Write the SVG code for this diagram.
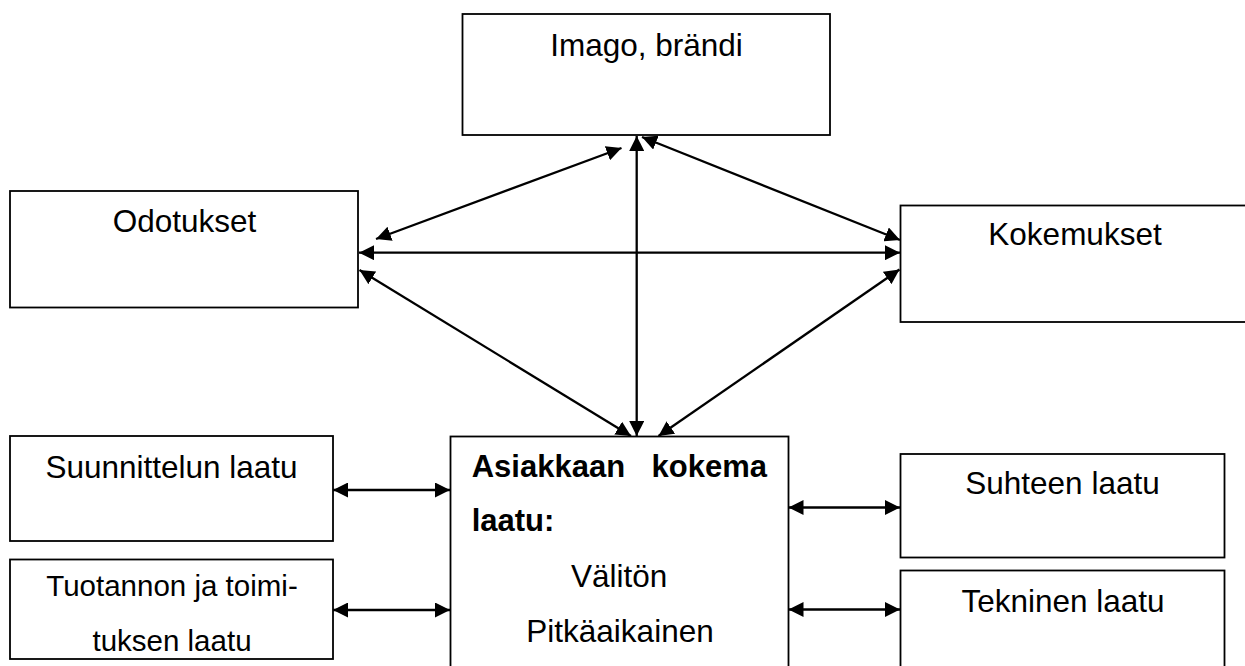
<svg xmlns="http://www.w3.org/2000/svg" width="1245" height="666" viewBox="0 0 1245 666">
  <style>
    .box { fill: #ffffff; stroke: #000000; stroke-width: 1.8; }
    .lbl { font-family: "Liberation Sans", Arial, sans-serif; font-size: 31.5px; fill: #000000; }
    .small { font-size: 29.5px; }
    .mid { text-anchor: middle; }
    .bold { font-weight: bold; font-size: 31px; }
    .conn { stroke: #000000; stroke-width: 2.3; fill: none; marker-start: url(#head); marker-end: url(#head); }
  </style>
  <defs>
    <marker id="head" markerUnits="userSpaceOnUse" markerWidth="15" markerHeight="15" refX="15" refY="7.5" orient="auto-start-reverse">
      <path d="M0,0 L15,7.5 L0,15 Z" fill="#000000"/>
    </marker>
  </defs>
  <rect width="1245" height="666" fill="#ffffff"/>

  <g id="connectors">
    <line class="conn" x1="376" y1="239" x2="621.5" y2="148"/>
    <line class="conn" x1="642" y1="137" x2="900" y2="240"/>
    <line class="conn" x1="359" y1="252.7" x2="900" y2="252.7"/>
    <line class="conn" x1="636.7" y1="136" x2="636.7" y2="436"/>
    <line class="conn" x1="359.5" y1="270" x2="631" y2="436"/>
    <line class="conn" x1="899.5" y1="269.5" x2="658.5" y2="436"/>
    <line class="conn" x1="333" y1="490" x2="450" y2="490"/>
    <line class="conn" x1="333" y1="610" x2="450" y2="610"/>
    <line class="conn" x1="788.5" y1="507.5" x2="900" y2="507.5"/>
    <line class="conn" x1="788.5" y1="609.5" x2="900" y2="609.5"/>
  </g>

  <g id="imago">
    <rect class="box" x="462.5" y="14" width="367.5" height="121"/>
    <text class="lbl mid" x="646.5" y="56">Imago, brändi</text>
  </g>
  <g id="odotukset">
    <rect class="box" x="10" y="191" width="348" height="116.5"/>
    <text class="lbl mid" x="184.5" y="231.7">Odotukset</text>
  </g>
  <g id="kokemukset">
    <rect class="box" x="900.5" y="205.5" width="350" height="116.5"/>
    <text class="lbl mid" x="1075" y="245">Kokemukset</text>
  </g>
  <g id="asiakkaan-kokema-laatu">
    <rect class="box" x="450.5" y="436.5" width="338" height="250"/>
    <text class="lbl bold" x="471.7" y="476.7">Asiakkaan</text>
    <text class="lbl bold" x="767" y="476.7" text-anchor="end">kokema</text>
    <text class="lbl bold" x="471.7" y="530.7">laatu:</text>
    <text class="lbl mid" x="619.2" y="586.7">Välitön</text>
    <text class="lbl mid" x="620" y="641.7">Pitkäaikainen</text>
  </g>
  <g id="suunnittelun-laatu">
    <rect class="box" x="10" y="436" width="323" height="105"/>
    <text class="lbl mid" x="171.5" y="478">Suunnittelun laatu</text>
  </g>
  <g id="tuotannon-laatu">
    <rect class="box" x="10" y="559.5" width="323" height="99.5"/>
    <text class="lbl small mid" x="172" y="596">Tuotannon ja toimi-</text>
    <text class="lbl small mid" x="172" y="651">tuksen laatu</text>
  </g>
  <g id="suhteen-laatu">
    <rect class="box" x="900.5" y="454" width="324" height="103.5"/>
    <text class="lbl mid" x="1062.5" y="494">Suhteen laatu</text>
  </g>
  <g id="tekninen-laatu">
    <rect class="box" x="900.5" y="570.5" width="324" height="120"/>
    <text class="lbl mid" x="1063" y="612.3">Tekninen laatu</text>
  </g>
</svg>
